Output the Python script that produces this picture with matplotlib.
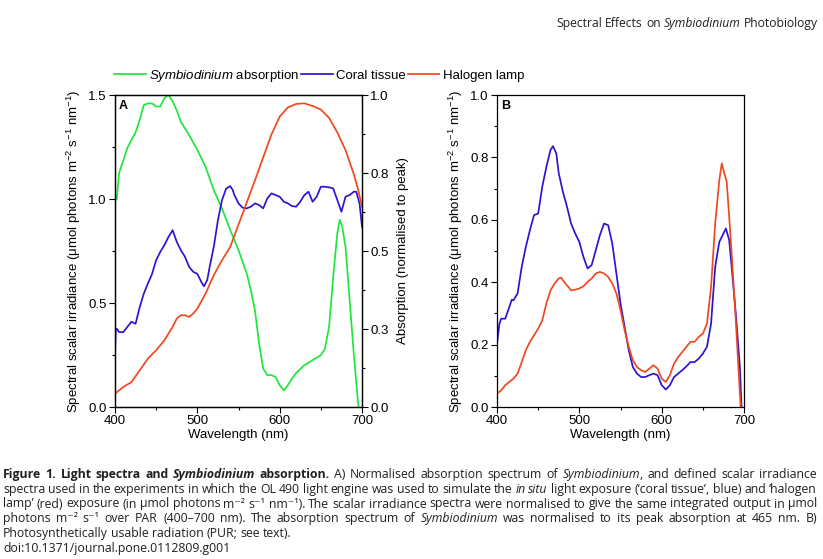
import re
import matplotlib
matplotlib.use('Agg')
import matplotlib.pyplot as plt
from matplotlib import font_manager
from matplotlib.transforms import IdentityTransform
from matplotlib.ticker import MultipleLocator, FixedLocator

plt.rcParams['font.family'] = ['Liberation Sans', 'DejaVu Sans']
plt.rcParams['mathtext.fontset'] = 'custom'
plt.rcParams['mathtext.rm'] = 'Liberation Sans'
plt.rcParams['mathtext.it'] = 'Liberation Sans:italic'
plt.rcParams['mathtext.bf'] = 'Liberation Sans:bold'

# ---------------- data ----------------
wl_abs = [400, 402, 405, 410, 415, 420, 425, 430, 435, 440, 445, 450, 455, 460, 465,
          470, 475, 480, 490, 500, 510, 520, 530, 540, 550, 560, 565, 570, 575, 580,
          585, 590, 595, 600, 605, 610, 615, 620, 630, 640, 650, 655, 660, 665, 670,
          673, 676, 680, 685, 690, 695, 696]
absorption = [0.68, 0.665, 0.75, 0.79, 0.83, 0.856, 0.88, 0.92, 0.968, 0.973, 0.973, 0.963,
              0.963, 0.99, 1.0, 0.98, 0.95, 0.914, 0.872, 0.824, 0.77, 0.695, 0.636, 0.567,
              0.503, 0.428, 0.374, 0.31, 0.203, 0.123, 0.102, 0.102, 0.096, 0.07, 0.053,
              0.07, 0.091, 0.109, 0.134, 0.15, 0.166, 0.187, 0.257, 0.417, 0.556, 0.60,
              0.578, 0.513, 0.342, 0.171, 0.02, 0.0]

wl_a = [400, 401, 402, 405, 410, 415, 420, 425, 430, 435, 440, 445, 450, 455, 460, 465,
        470, 475, 480, 485, 490, 495, 500, 505, 508, 512, 515, 520, 525, 530, 535, 540,
        543, 545, 550, 555, 560, 565, 570, 575, 580, 585, 590, 595, 600, 605, 610, 615,
        620, 625, 630, 635, 640, 645, 650, 655, 660, 665, 670, 675, 680, 685, 690, 693,
        697, 700]
coral_a = [0.26, 0.37, 0.377, 0.36, 0.36, 0.385, 0.41, 0.40, 0.48, 0.545, 0.594, 0.64,
           0.706, 0.746, 0.778, 0.818, 0.85, 0.794, 0.754, 0.722, 0.674, 0.65, 0.64, 0.60,
           0.58, 0.61, 0.674, 0.77, 0.898, 0.995, 1.05, 1.062, 1.043, 1.019, 0.979, 0.958,
           0.955, 0.963, 0.979, 0.971, 0.955, 1.003, 1.027, 1.019, 1.011, 0.987, 0.979,
           0.966, 0.963, 0.987, 1.019, 1.035, 0.987, 1.011, 1.059, 1.059, 1.056, 1.051,
           0.995, 0.939, 1.011, 1.019, 1.035, 1.035, 0.979, 0.866]

wl_h = [400, 410, 420, 430, 440, 450, 460, 470, 475, 480, 485, 490, 495, 500, 510, 520,
        530, 540, 550, 560, 570, 580, 590, 600, 610, 620, 630, 640, 650, 660, 670, 680,
        690, 695, 700]
halogen_a = [0.064, 0.096, 0.12, 0.176, 0.233, 0.273, 0.321, 0.385, 0.425, 0.441, 0.441,
             0.433, 0.449, 0.473, 0.545, 0.634, 0.706, 0.77, 0.877, 0.983, 1.09, 1.20,
             1.31, 1.396, 1.44, 1.457, 1.46, 1.447, 1.43, 1.39, 1.32, 1.235, 1.12, 1.05,
             0.963]

wl_b_coral = [400, 403, 405, 410, 415, 418, 420, 425, 430, 435, 440, 445, 450, 455, 460,
              465, 468, 472, 475, 480, 485, 490, 495, 500, 505, 510, 515, 520, 525, 530,
              535, 540, 545, 550, 555, 560, 565, 570, 575, 580, 585, 590, 595, 600, 605,
              610, 615, 620, 625, 630, 635, 640, 645, 650, 655, 660, 665, 670, 675, 678,
              682, 685, 690, 695, 697]
pur_coral = [0.203, 0.267, 0.283, 0.283, 0.321, 0.344, 0.342, 0.364, 0.449, 0.513, 0.567,
             0.615, 0.62, 0.706, 0.77, 0.824, 0.836, 0.813, 0.749, 0.69, 0.642, 0.588,
             0.556, 0.529, 0.481, 0.444, 0.455, 0.503, 0.551, 0.588, 0.583, 0.524, 0.428,
             0.332, 0.257, 0.182, 0.128, 0.107, 0.096, 0.096, 0.102, 0.107, 0.102, 0.07,
             0.056, 0.07, 0.096, 0.107, 0.118, 0.13, 0.144, 0.144, 0.155, 0.171, 0.193,
             0.267, 0.449, 0.529, 0.556, 0.572, 0.535, 0.449, 0.30, 0.128, 0.0]

wl_b_hal = [400, 405, 410, 420, 425, 430, 435, 440, 445, 450, 455, 460, 465, 470, 475,
            478, 480, 485, 490, 495, 500, 505, 510, 515, 520, 525, 530, 535, 540, 545,
            550, 555, 560, 565, 570, 575, 580, 585, 590, 595, 600, 605, 610, 615, 620,
            625, 630, 635, 640, 645, 650, 655, 660, 665, 670, 673, 676, 679, 682, 685,
            690, 695, 696]
pur_halogen = [0.043, 0.053, 0.07, 0.091, 0.107, 0.144, 0.182, 0.209, 0.23, 0.251, 0.278,
               0.332, 0.374, 0.396, 0.412, 0.415, 0.406, 0.39, 0.374, 0.376, 0.38, 0.387,
               0.401, 0.412, 0.428, 0.433, 0.428, 0.417, 0.396, 0.364, 0.31, 0.246, 0.193,
               0.15, 0.128, 0.118, 0.112, 0.123, 0.134, 0.123, 0.091, 0.08, 0.102, 0.139,
               0.16, 0.176, 0.193, 0.209, 0.209, 0.225, 0.235, 0.267, 0.385, 0.588, 0.727,
               0.781, 0.749, 0.722, 0.61, 0.492, 0.278, 0.043, 0.0]

x_ticks = [400, 500, 600, 700]
left_ticks_a = [0.0, 0.5, 1.0, 1.5]
right_ticks = [0.0, 0.25, 0.5, 0.75, 1.0]
right_tick_labels = ['0.0', '0.3', '0.5', '0.8', '1.0']
ticks_b = [0.0, 0.2, 0.4, 0.6, 0.8, 1.0]

series_labels = [r'$\it{Symbiodinium}$ absorption', 'Coral tissue', 'Halogen lamp']
C_GREEN, C_BLUE, C_RED = '#1fe63e', '#2c14d2', '#f0481f'

ylab = 'Spectral scalar irradiance (\u03bcmol photons m$^{-2}$ s$^{-1}$ nm$^{-1}$)'

W, H = 823, 559
fig = plt.figure(figsize=(W / 100, H / 100), dpi=100)
fig.patch.set_facecolor('white')

FS = 9.5
LW = 1.25


def style_axis(ax):
    for s in ax.spines.values():
        s.set_linewidth(0.9)
    ax.tick_params(which='both', direction='out', width=0.8, labelsize=FS, pad=2)
    ax.tick_params(which='major', length=4)
    ax.tick_params(which='minor', length=2)


axA = fig.add_axes([115 / W, 1 - 407 / H, 247 / W, 312 / H])
axA2 = axA.twinx()
axB = fig.add_axes([497 / W, 1 - 407 / H, 247 / W, 312 / H])

lg, = axA2.plot(wl_abs, absorption, color=C_GREEN, lw=LW)
lb, = axA.plot(wl_a, coral_a, color=C_BLUE, lw=LW)
lr, = axA.plot(wl_h, halogen_a, color=C_RED, lw=LW)
axA.set_zorder(axA2.get_zorder() + 1)
axA.patch.set_visible(False)

axB.plot(wl_b_coral, pur_coral, color=C_BLUE, lw=LW)
axB.plot(wl_b_hal, pur_halogen, color=C_RED, lw=LW)

for ax in (axA, axA2, axB):
    style_axis(ax)
    ax.set_xlim(400, 700)
    ax.xaxis.set_major_locator(FixedLocator(x_ticks))
    ax.xaxis.set_minor_locator(MultipleLocator(50))

axA.set_ylim(0, 1.5)
axA.set_yticks(left_ticks_a)
axA.set_yticklabels([f'{v:.1f}' for v in left_ticks_a])
axA.yaxis.set_minor_locator(MultipleLocator(0.25))
axA.tick_params(which='both', top=False, right=False)
axA2.set_ylim(0, 1)
axA2.set_yticks(right_ticks)
axA2.set_yticklabels(right_tick_labels)
axA2.yaxis.set_minor_locator(MultipleLocator(0.125))
axA2.tick_params(which='both', left=False, top=False, labelleft=False)
axA.set_xticklabels([str(v) for v in x_ticks])

axB.set_ylim(0, 1.0)
axB.set_yticks(ticks_b)
axB.set_yticklabels([f'{v:.1f}' for v in ticks_b])
axB.yaxis.set_minor_locator(MultipleLocator(0.1))
axB.tick_params(which='both', top=False, right=False)
axB.set_xticklabels([str(v) for v in x_ticks])

axA.set_ylabel(ylab, fontsize=FS, labelpad=4)
axA2.set_ylabel('Absorption (normalised to peak)', fontsize=FS, labelpad=6, rotation=90)
axB.set_ylabel(ylab, fontsize=FS, labelpad=4)
for ax in (axA, axB):
    ax.set_xlabel('Wavelength (nm)', fontsize=FS, labelpad=1)
    ax.text(0.015, 0.985, 'A' if ax is axA else 'B', transform=ax.transAxes,
            ha='left', va='top', fontsize=9, fontweight='bold')

fig.legend([lg, lb, lr], series_labels, loc='center', bbox_to_anchor=(319 / W, 1 - 76 / H),
           ncol=3, frameon=False, fontsize=FS, handlelength=2.4, handletextpad=0.25,
           columnspacing=0.15, borderpad=0)

# ---------------- caption / header text ----------------
renderer = fig.canvas.get_renderer()
STY = {'r': ('normal', 'normal'), 'b': ('bold', 'normal'),
       'i': ('normal', 'italic'), 'bi': ('bold', 'italic')}
_names = {f.name for f in font_manager.fontManager.ttflist}
if 'Liberation Sans Narrow' in _names:
    CAPFONT = ['Liberation Sans Narrow', 'DejaVu Sans']
else:
    CAPFONT = ['Open Sans', 'DejaVu Sans']
HDRFONT = ['Open Sans', 'DejaVu Sans']
TXTCOL = '#231f20'


def parse(s):
    runs = []
    for m in re.finditer(r'<(bi|b|i)>(.*?)</\1>|([^<]+)', s):
        if m.group(3) is not None:
            runs.append((m.group(3), 'r'))
        else:
            runs.append((m.group(2), m.group(1)))
    words = [[]]
    for txt, st in runs:
        parts = txt.split(' ')
        for k, p in enumerate(parts):
            if k > 0:
                words.append([])
            if p:
                words[-1].append((p, st))
    return [w for w in words if w]


def space_w(size, fam):
    a = fig.text(0, 0, 'x x', fontsize=size, family=fam, transform=IdentityTransform())
    b = fig.text(0, 0, 'xx', fontsize=size, family=fam, transform=IdentityTransform())
    w = a.get_window_extent(renderer).width - b.get_window_extent(renderer).width
    a.remove(); b.remove()
    return w


def layout(s, x0, y, size, fam, x1=None, right=None, measure=False):
    words = parse(s)
    arts, widths = [], []
    for w in words:
        segs, ws = [], []
        for txt, st in w:
            wt, sl = STY[st]
            t = fig.text(0, 0, txt, transform=IdentityTransform(), fontsize=size,
                         fontweight=wt, fontstyle=sl, family=fam, va='baseline',
                         ha='left', color=TXTCOL)
            segs.append(t)
            ws.append(t.get_window_extent(renderer).width)
        arts.append(segs)
        widths.append(ws)
    wsum = [sum(ws) for ws in widths]
    gap = space_w(size, fam)
    if x1 is not None and len(words) > 1:
        gap = (x1 - x0 - sum(wsum)) / (len(words) - 1)
    total = sum(wsum) + gap * (len(words) - 1)
    if measure:
        for segs in arts:
            for t in segs:
                t.remove()
        return total
    if right is not None:
        x0 = right - total
    x = x0
    for segs, ws in zip(arts, widths):
        xx = x
        for t, w in zip(segs, ws):
            t.set_position((xx, y))
            xx += w
        x += sum(ws) + gap
    return total


header = 'Spectral Effects on <i>Symbiodinium</i> Photobiology'
hw = layout(header, 0, 0, 9, HDRFONT, measure=True)
layout(header, 0, H - 27, 9 * 263 / hw, HDRFONT, right=818)

SUP2 = '\u207b\u00b2'
SUP1 = '\u207b\u00b9'
cap_lines = [
    '<b>Figure 1. Light spectra and </b><bi>Symbiodinium</bi><b> absorption.</b> A) Normalised absorption spectrum of <i>Symbiodinium</i>, and defined scalar irradiance',
    'spectra used in the experiments in which the OL 490 light engine was used to simulate the <i>in situ</i> light exposure (\u2018coral tissue\u2019, blue) and \u2018halogen',
    f'lamp\u2019 (red) exposure (in \u03bcmol photons m{SUP2} s{SUP1} nm{SUP1}). The scalar irradiance spectra were normalised to give the same integrated output in \u03bcmol',
    f'photons m{SUP2} s{SUP1} over PAR (400\u2013700 nm). The absorption spectrum of <i>Symbiodinium</i> was normalised to its peak absorption at 465 nm. B)',
    'Photosynthetically usable radiation (PUR; see text).',
    'doi:10.1371/journal.pone.0112809.g001',
]
cap_base = [478, 493, 507.5, 522, 537, 552]
w5 = layout(cap_lines[4], 0, 0, 8, CAPFONT, measure=True)
cap_size = 8 * 293 / w5
for i, (line, yb) in enumerate(zip(cap_lines, cap_base)):
    layout(line, 3, H - yb, cap_size, CAPFONT, x1=817 if i < 4 else None)

fig.savefig('out.png', dpi=100, facecolor='white')
